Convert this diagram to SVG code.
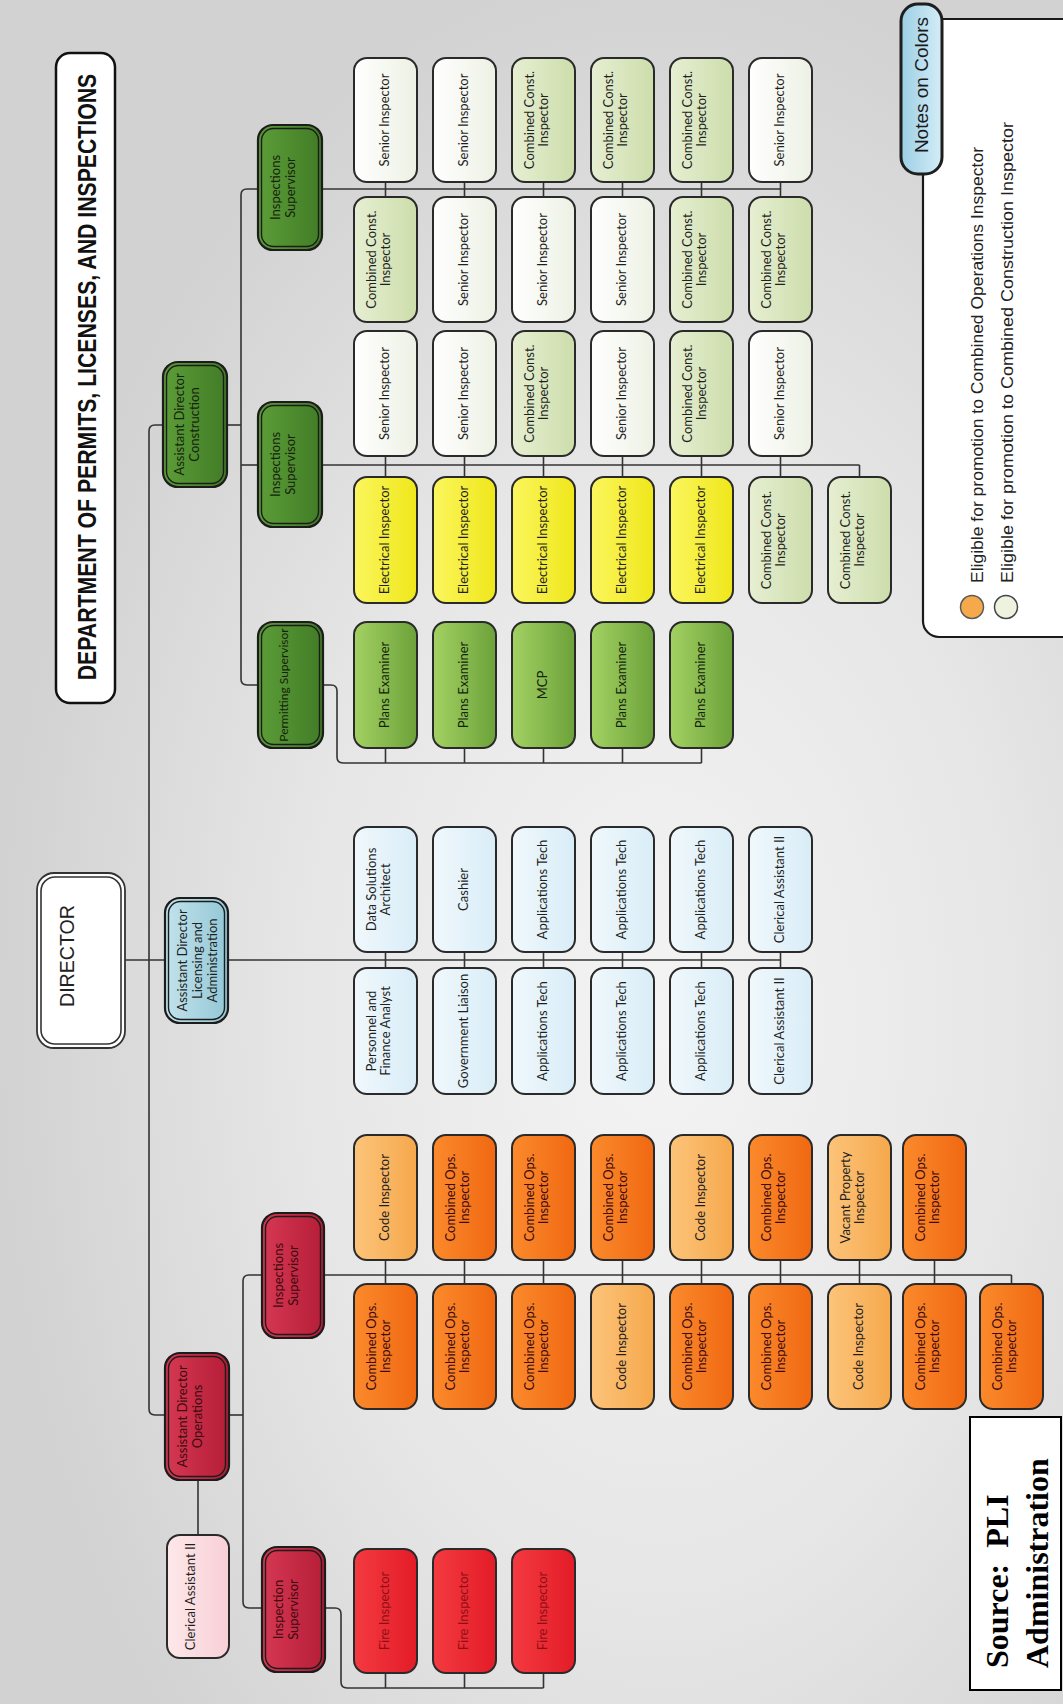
<svg xmlns="http://www.w3.org/2000/svg" width="1063" height="1704" viewBox="0 0 1063 1704">
<defs>
<radialGradient id="bg" cx="0.62" cy="0.6" r="0.62">
<stop offset="0" stop-color="#f4f4f4"/><stop offset="0.55" stop-color="#e6e6e6"/><stop offset="1" stop-color="#d2d2d2"/>
</radialGradient>
<linearGradient id="gSen" x1="0" y1="0" x2="1" y2="0"><stop offset="0" stop-color="#ffffff"/><stop offset="1" stop-color="#edf1e4"/></linearGradient>
<linearGradient id="gCmb" x1="0" y1="0" x2="1" y2="0"><stop offset="0" stop-color="#e6efd2"/><stop offset="1" stop-color="#cdddab"/></linearGradient>
<linearGradient id="gYel" x1="0" y1="0" x2="1" y2="0"><stop offset="0" stop-color="#fbf65e"/><stop offset="1" stop-color="#efe71a"/></linearGradient>
<linearGradient id="gPln" x1="0" y1="0" x2="1" y2="0"><stop offset="0" stop-color="#a3d163"/><stop offset="1" stop-color="#6ca23a"/></linearGradient>
<linearGradient id="gDg" x1="0" y1="0" x2="1" y2="0"><stop offset="0" stop-color="#5c9d38"/><stop offset="1" stop-color="#417c26"/></linearGradient>
<linearGradient id="gLb" x1="0" y1="0" x2="1" y2="0"><stop offset="0" stop-color="#f0f8fc"/><stop offset="1" stop-color="#d9edf7"/></linearGradient>
<linearGradient id="gAdb" x1="0" y1="0" x2="1" y2="0"><stop offset="0" stop-color="#c2e3ec"/><stop offset="1" stop-color="#93c7d6"/></linearGradient>
<linearGradient id="gOr" x1="0" y1="0" x2="1" y2="0"><stop offset="0" stop-color="#fb8a2c"/><stop offset="1" stop-color="#f06812"/></linearGradient>
<linearGradient id="gLo" x1="0" y1="0" x2="1" y2="0"><stop offset="0" stop-color="#fcc47a"/><stop offset="1" stop-color="#f6a84c"/></linearGradient>
<linearGradient id="gFi" x1="0" y1="0" x2="1" y2="0"><stop offset="0" stop-color="#f43a40"/><stop offset="1" stop-color="#e31c27"/></linearGradient>
<linearGradient id="gRs" x1="0" y1="0" x2="1" y2="0"><stop offset="0" stop-color="#d63852"/><stop offset="1" stop-color="#b51d37"/></linearGradient>
<linearGradient id="gPk" x1="0" y1="0" x2="1" y2="0"><stop offset="0" stop-color="#fde8ea"/><stop offset="1" stop-color="#f8d0d6"/></linearGradient>
<linearGradient id="gNt" x1="0" y1="0" x2="1" y2="0"><stop offset="0" stop-color="#9dcfe5"/><stop offset="1" stop-color="#d4edf7"/></linearGradient>
</defs>
<style>
.bx{stroke:#2a2a2a;stroke-width:2}
.sup{stroke:#1c1c1c;stroke-width:2.2}
.in{fill:none;stroke:#1c1c1c;stroke-width:1.4}
.t{font-family:Lato,"Open Sans","DejaVu Sans",sans-serif;font-size:13px;text-anchor:middle;fill:#1f1f1f}
.ts{font-size:12px}
.dk{fill:#14240c}
.rd{fill:#3c0a10}
.fi{fill:#8e1016}
.ln{fill:none;stroke:#333;stroke-width:1.6;stroke-linejoin:round}
.sen{fill:url(#gSen)}.cmb{fill:url(#gCmb)}.yel{fill:url(#gYel)}.pln{fill:url(#gPln)}.dg{fill:url(#gDg)}
.lb{fill:url(#gLb)}.adb{fill:url(#gAdb)}.or{fill:url(#gOr)}.lo{fill:url(#gLo)}.fr{fill:url(#gFi)}.rs{fill:url(#gRs)}.pk{fill:url(#gPk)}
.ar{font-family:"Liberation Sans",Arial,sans-serif}
</style>
<rect x="0" y="0" width="1063" height="1704" fill="url(#bg)"/>

<g id="connectors">
<path class="ln" d="M163,425 H155 Q149,425 149,431 V1409 Q149,1415 155,1415 H165"/>
<path class="ln" d="M125,960 H165"/>
<path class="ln" d="M228,960 H780.5"/>
<path class="ln" d="M385.5,952 V968 M464.5,952 V968 M543.5,952 V968 M622.5,952 V968 M701.5,952 V968 M780.5,952 V968"/>
<path class="ln" d="M227,425 H241"/>
<path class="ln" d="M258,189 H247 Q241,189 241,195 V679 Q241,685 247,685 H258"/>
<path class="ln" d="M241,465 H258"/>
<path class="ln" d="M322,189 H780.5"/>
<path class="ln" d="M385.5,182 V197 M464.5,182 V197 M543.5,182 V197 M622.5,182 V197 M701.5,182 V197 M780.5,182 V197"/>
<path class="ln" d="M322,465 H859.5"/>
<path class="ln" d="M385.5,456 V477 M464.5,456 V477 M543.5,456 V477 M622.5,456 V477 M701.5,456 V477 M780.5,456 V477 M859.5,465 V477"/>
<path class="ln" d="M323,685 H331 Q337,685 337,691 V757 Q337,763 343,763 H701.5"/>
<path class="ln" d="M385.5,748 V763 M464.5,748 V763 M543.5,748 V763 M622.5,748 V763 M701.5,748 V763"/>
<path class="ln" d="M229,1415 H243"/>
<path class="ln" d="M262,1275 H249 Q243,1275 243,1281 V1602 Q243,1608 249,1608 H262"/>
<path class="ln" d="M324,1275 H1011.5"/>
<path class="ln" d="M385.5,1260 V1284 M464.5,1260 V1284 M543.5,1260 V1284 M622.5,1260 V1284 M701.5,1260 V1284 M780.5,1260 V1284 M859.5,1260 V1284 M934.5,1260 V1284 M1011.5,1275 V1284"/>
<path class="ln" d="M198,1480 V1535"/>
<path class="ln" d="M325,1608 H335 Q341,1608 341,1614 V1682 Q341,1688 347,1688 H543.5"/>
<path class="ln" d="M385.5,1673 V1688 M464.5,1673 V1688 M543.5,1673 V1688"/>
</g>

<g id="title">
<rect x="56" y="53" width="59" height="650" rx="14" fill="#ffffff" stroke="#111" stroke-width="2.5"/>
<text class="ar" transform="translate(96,377) rotate(-90) scale(0.85,1)" text-anchor="middle" font-size="25" font-weight="bold" fill="#111">DEPARTMENT OF PERMITS, LICENSES, AND INSPECTIONS</text>
</g>

<g id="legend">
<rect x="923" y="19" width="160" height="618" rx="16" fill="#ffffff" stroke="#1a1a1a" stroke-width="2.2"/>
<circle cx="972" cy="607" r="11.5" fill="#f6a94a" stroke="#5a5a5a" stroke-width="1.5"/>
<circle cx="1006" cy="607" r="11.5" fill="#eef3e0" stroke="#444" stroke-width="1.5"/>
<text class="ar" transform="translate(983,583) rotate(-90)" font-size="16" fill="#222" textLength="436" lengthAdjust="spacingAndGlyphs">Eligible for promotion to Combined Operations Inspector</text>
<text class="ar" transform="translate(1013,583) rotate(-90)" font-size="16" fill="#222" textLength="461" lengthAdjust="spacingAndGlyphs">Eligible for promotion to Combined Construction Inspector</text>
</g>
<g id="notes-tab">
<rect x="901" y="4" width="41" height="170" rx="17" fill="url(#gNt)" stroke="#1e1e1e" stroke-width="3"/>
<text class="ar" transform="translate(928,85) rotate(-90)" text-anchor="middle" font-size="19" fill="#1a1a1a">Notes on Colors</text>
</g>

<g id="director">
<rect x="37" y="873" width="88" height="175" rx="17" fill="#ffffff" stroke="#333" stroke-width="1.8"/>
<rect x="41" y="877" width="80" height="167" rx="14" fill="#ffffff" stroke="#333" stroke-width="1.6"/>
<text class="ar" transform="translate(74,956) rotate(-90)" text-anchor="middle" font-size="21" fill="#222" textLength="102" lengthAdjust="spacingAndGlyphs">DIRECTOR</text>
</g>

<g id="ad-construction">
<rect class="sup dg" x="163" y="362" width="64" height="125" rx="15"/>
<rect class="in" x="166.5" y="365.5" width="57" height="118" rx="12"/>
<text class="t dk" transform="translate(184,424.5) rotate(-90)"><tspan x="0" y="0">Assistant Director</tspan><tspan x="0" y="15">Construction</tspan></text>
</g>
<g id="ad-licensing">
<rect class="sup adb" x="165" y="898" width="63" height="125" rx="15"/>
<rect class="in" x="168.5" y="901.5" width="56" height="118" rx="12"/>
<text class="t" transform="translate(187,960.5) rotate(-90)"><tspan x="0" y="0">Assistant Director</tspan><tspan x="0" y="15">Licensing and</tspan><tspan x="0" y="30">Administration</tspan></text>
</g>
<g id="ad-operations">
<rect class="sup rs" x="165" y="1353" width="64" height="127" rx="15"/>
<rect class="in" x="168.5" y="1356.5" width="57" height="120" rx="12"/>
<text class="t rd" transform="translate(187,1416.5) rotate(-90)"><tspan x="0" y="0">Assistant Director</tspan><tspan x="0" y="15">Operations</tspan></text>
</g>
<g id="clerical-ops">
<rect class="bx pk" x="167" y="1535" width="62" height="123" rx="13"/>
<text class="t" transform="translate(195,1596.5) rotate(-90)">Clerical Assistant II</text>
</g>

<g id="sup-insp-top">
<rect class="sup dg" x="258" y="125" width="64" height="125" rx="15"/>
<rect class="in" x="261.5" y="128.5" width="57" height="118" rx="12"/>
<text class="t dk" transform="translate(280,187.5) rotate(-90)"><tspan x="0" y="0">Inspections</tspan><tspan x="0" y="15">Supervisor</tspan></text>
</g>
<g id="sup-insp-mid">
<rect class="sup dg" x="258" y="402" width="64" height="125" rx="15"/>
<rect class="in" x="261.5" y="405.5" width="57" height="118" rx="12"/>
<text class="t dk" transform="translate(280,464.5) rotate(-90)"><tspan x="0" y="0">Inspections</tspan><tspan x="0" y="15">Supervisor</tspan></text>
</g>
<g id="sup-permitting">
<rect class="sup dg" x="258" y="622" width="65" height="126" rx="15"/>
<rect class="in" x="261.5" y="625.5" width="58" height="119" rx="12"/>
<text class="t ts dk" transform="translate(288,685) rotate(-90)">Permitting Supervisor</text>
</g>
<g id="sup-ops-insp">
<rect class="sup rs" x="262" y="1213" width="62" height="125" rx="15"/>
<rect class="in" x="265.5" y="1216.5" width="55" height="118" rx="12"/>
<text class="t rd" transform="translate(283,1275.5) rotate(-90)"><tspan x="0" y="0">Inspections</tspan><tspan x="0" y="15">Supervisor</tspan></text>
</g>
<g id="sup-ops-fire">
<rect class="sup rs" x="262" y="1547" width="63" height="125" rx="15"/>
<rect class="in" x="265.5" y="1550.5" width="56" height="118" rx="12"/>
<text class="t rd" transform="translate(283,1609.5) rotate(-90)"><tspan x="0" y="0">Inspection</tspan><tspan x="0" y="15">Supervisor</tspan></text>
</g>

<!-- Construction row 1 -->
<g id="r1c1"><rect class="bx sen" x="354" y="58" width="63" height="124" rx="13"/><text class="t" transform="translate(388.5,120) rotate(-90)">Senior Inspector</text></g>
<g id="r1c2"><rect class="bx sen" x="433" y="58" width="63" height="124" rx="13"/><text class="t" transform="translate(467.5,120) rotate(-90)">Senior Inspector</text></g>
<g id="r1c3"><rect class="bx cmb" x="512" y="58" width="63" height="124" rx="13"/><text class="t" transform="translate(533.5,120) rotate(-90)"><tspan x="0" y="0">Combined Const.</tspan><tspan x="0" y="14">Inspector</tspan></text></g>
<g id="r1c4"><rect class="bx cmb" x="591" y="58" width="63" height="124" rx="13"/><text class="t" transform="translate(612.5,120) rotate(-90)"><tspan x="0" y="0">Combined Const.</tspan><tspan x="0" y="14">Inspector</tspan></text></g>
<g id="r1c5"><rect class="bx cmb" x="670" y="58" width="63" height="124" rx="13"/><text class="t" transform="translate(691.5,120) rotate(-90)"><tspan x="0" y="0">Combined Const.</tspan><tspan x="0" y="14">Inspector</tspan></text></g>
<g id="r1c6"><rect class="bx sen" x="749" y="58" width="63" height="124" rx="13"/><text class="t" transform="translate(783.5,120) rotate(-90)">Senior Inspector</text></g>
<!-- Construction row 2 -->
<g id="r2c1"><rect class="bx cmb" x="354" y="197" width="63" height="125" rx="13"/><text class="t" transform="translate(375.5,259.5) rotate(-90)"><tspan x="0" y="0">Combined Const.</tspan><tspan x="0" y="14">Inspector</tspan></text></g>
<g id="r2c2"><rect class="bx sen" x="433" y="197" width="63" height="125" rx="13"/><text class="t" transform="translate(467.5,259.5) rotate(-90)">Senior Inspector</text></g>
<g id="r2c3"><rect class="bx sen" x="512" y="197" width="63" height="125" rx="13"/><text class="t" transform="translate(546.5,259.5) rotate(-90)">Senior Inspector</text></g>
<g id="r2c4"><rect class="bx sen" x="591" y="197" width="63" height="125" rx="13"/><text class="t" transform="translate(625.5,259.5) rotate(-90)">Senior Inspector</text></g>
<g id="r2c5"><rect class="bx cmb" x="670" y="197" width="63" height="125" rx="13"/><text class="t" transform="translate(691.5,259.5) rotate(-90)"><tspan x="0" y="0">Combined Const.</tspan><tspan x="0" y="14">Inspector</tspan></text></g>
<g id="r2c6"><rect class="bx cmb" x="749" y="197" width="63" height="125" rx="13"/><text class="t" transform="translate(770.5,259.5) rotate(-90)"><tspan x="0" y="0">Combined Const.</tspan><tspan x="0" y="14">Inspector</tspan></text></g>
<!-- Construction row 3 -->
<g id="r3c1"><rect class="bx sen" x="354" y="331" width="63" height="125" rx="13"/><text class="t" transform="translate(388.5,393.5) rotate(-90)">Senior Inspector</text></g>
<g id="r3c2"><rect class="bx sen" x="433" y="331" width="63" height="125" rx="13"/><text class="t" transform="translate(467.5,393.5) rotate(-90)">Senior Inspector</text></g>
<g id="r3c3"><rect class="bx cmb" x="512" y="331" width="63" height="125" rx="13"/><text class="t" transform="translate(533.5,393.5) rotate(-90)"><tspan x="0" y="0">Combined Const.</tspan><tspan x="0" y="14">Inspector</tspan></text></g>
<g id="r3c4"><rect class="bx sen" x="591" y="331" width="63" height="125" rx="13"/><text class="t" transform="translate(625.5,393.5) rotate(-90)">Senior Inspector</text></g>
<g id="r3c5"><rect class="bx cmb" x="670" y="331" width="63" height="125" rx="13"/><text class="t" transform="translate(691.5,393.5) rotate(-90)"><tspan x="0" y="0">Combined Const.</tspan><tspan x="0" y="14">Inspector</tspan></text></g>
<g id="r3c6"><rect class="bx sen" x="749" y="331" width="63" height="125" rx="13"/><text class="t" transform="translate(783.5,393.5) rotate(-90)">Senior Inspector</text></g>
<!-- Construction row 4 -->
<g id="r4c1"><rect class="bx yel" x="354" y="477" width="63" height="126" rx="13"/><text class="t" transform="translate(388.5,540) rotate(-90)">Electrical Inspector</text></g>
<g id="r4c2"><rect class="bx yel" x="433" y="477" width="63" height="126" rx="13"/><text class="t" transform="translate(467.5,540) rotate(-90)">Electrical Inspector</text></g>
<g id="r4c3"><rect class="bx yel" x="512" y="477" width="63" height="126" rx="13"/><text class="t" transform="translate(546.5,540) rotate(-90)">Electrical Inspector</text></g>
<g id="r4c4"><rect class="bx yel" x="591" y="477" width="63" height="126" rx="13"/><text class="t" transform="translate(625.5,540) rotate(-90)">Electrical Inspector</text></g>
<g id="r4c5"><rect class="bx yel" x="670" y="477" width="63" height="126" rx="13"/><text class="t" transform="translate(704.5,540) rotate(-90)">Electrical Inspector</text></g>
<g id="r4c6"><rect class="bx cmb" x="749" y="477" width="63" height="126" rx="13"/><text class="t" transform="translate(770.5,540) rotate(-90)"><tspan x="0" y="0">Combined Const.</tspan><tspan x="0" y="14">Inspector</tspan></text></g>
<g id="r4c7"><rect class="bx cmb" x="828" y="477" width="63" height="126" rx="13"/><text class="t" transform="translate(849.5,540) rotate(-90)"><tspan x="0" y="0">Combined Const.</tspan><tspan x="0" y="14">Inspector</tspan></text></g>
<!-- Construction row 5 -->
<g id="r5c1"><rect class="bx pln" x="354" y="622" width="63" height="126" rx="13"/><text class="t dk" transform="translate(388.5,685) rotate(-90)">Plans Examiner</text></g>
<g id="r5c2"><rect class="bx pln" x="433" y="622" width="63" height="126" rx="13"/><text class="t dk" transform="translate(467.5,685) rotate(-90)">Plans Examiner</text></g>
<g id="r5c3"><rect class="bx pln" x="512" y="622" width="63" height="126" rx="13"/><text class="t dk" transform="translate(546.5,685) rotate(-90)">MCP</text></g>
<g id="r5c4"><rect class="bx pln" x="591" y="622" width="63" height="126" rx="13"/><text class="t dk" transform="translate(625.5,685) rotate(-90)">Plans Examiner</text></g>
<g id="r5c5"><rect class="bx pln" x="670" y="622" width="63" height="126" rx="13"/><text class="t dk" transform="translate(704.5,685) rotate(-90)">Plans Examiner</text></g>
<!-- Licensing row 6 -->
<g id="r6c1"><rect class="bx lb" x="354" y="827" width="63" height="125" rx="13"/><text class="t" transform="translate(375.5,889.5) rotate(-90)"><tspan x="0" y="0">Data Solutions</tspan><tspan x="0" y="14">Architect</tspan></text></g>
<g id="r6c2"><rect class="bx lb" x="433" y="827" width="63" height="125" rx="13"/><text class="t" transform="translate(467.5,889.5) rotate(-90)">Cashier</text></g>
<g id="r6c3"><rect class="bx lb" x="512" y="827" width="63" height="125" rx="13"/><text class="t" transform="translate(546.5,889.5) rotate(-90)">Applications Tech</text></g>
<g id="r6c4"><rect class="bx lb" x="591" y="827" width="63" height="125" rx="13"/><text class="t" transform="translate(625.5,889.5) rotate(-90)">Applications Tech</text></g>
<g id="r6c5"><rect class="bx lb" x="670" y="827" width="63" height="125" rx="13"/><text class="t" transform="translate(704.5,889.5) rotate(-90)">Applications Tech</text></g>
<g id="r6c6"><rect class="bx lb" x="749" y="827" width="63" height="125" rx="13"/><text class="t" transform="translate(783.5,889.5) rotate(-90)">Clerical Assistant II</text></g>
<!-- Licensing row 7 -->
<g id="r7c1"><rect class="bx lb" x="354" y="968" width="63" height="126" rx="13"/><text class="t" transform="translate(375.5,1031) rotate(-90)"><tspan x="0" y="0">Personnel and</tspan><tspan x="0" y="14">Finance Analyst</tspan></text></g>
<g id="r7c2"><rect class="bx lb" x="433" y="968" width="63" height="126" rx="13"/><text class="t" transform="translate(467.5,1031) rotate(-90)">Government Liaison</text></g>
<g id="r7c3"><rect class="bx lb" x="512" y="968" width="63" height="126" rx="13"/><text class="t" transform="translate(546.5,1031) rotate(-90)">Applications Tech</text></g>
<g id="r7c4"><rect class="bx lb" x="591" y="968" width="63" height="126" rx="13"/><text class="t" transform="translate(625.5,1031) rotate(-90)">Applications Tech</text></g>
<g id="r7c5"><rect class="bx lb" x="670" y="968" width="63" height="126" rx="13"/><text class="t" transform="translate(704.5,1031) rotate(-90)">Applications Tech</text></g>
<g id="r7c6"><rect class="bx lb" x="749" y="968" width="63" height="126" rx="13"/><text class="t" transform="translate(783.5,1031) rotate(-90)">Clerical Assistant II</text></g>
<!-- Operations row 8 -->
<g id="r8c1"><rect class="bx lo" x="354" y="1135" width="63" height="125" rx="13"/><text class="t" transform="translate(388.5,1197.5) rotate(-90)">Code Inspector</text></g>
<g id="r8c2"><rect class="bx or" x="433" y="1135" width="63" height="125" rx="13"/><text class="t rd" transform="translate(454.5,1197.5) rotate(-90)"><tspan x="0" y="0">Combined Ops.</tspan><tspan x="0" y="14">Inspector</tspan></text></g>
<g id="r8c3"><rect class="bx or" x="512" y="1135" width="63" height="125" rx="13"/><text class="t rd" transform="translate(533.5,1197.5) rotate(-90)"><tspan x="0" y="0">Combined Ops.</tspan><tspan x="0" y="14">Inspector</tspan></text></g>
<g id="r8c4"><rect class="bx or" x="591" y="1135" width="63" height="125" rx="13"/><text class="t rd" transform="translate(612.5,1197.5) rotate(-90)"><tspan x="0" y="0">Combined Ops.</tspan><tspan x="0" y="14">Inspector</tspan></text></g>
<g id="r8c5"><rect class="bx lo" x="670" y="1135" width="63" height="125" rx="13"/><text class="t" transform="translate(704.5,1197.5) rotate(-90)">Code Inspector</text></g>
<g id="r8c6"><rect class="bx or" x="749" y="1135" width="63" height="125" rx="13"/><text class="t rd" transform="translate(770.5,1197.5) rotate(-90)"><tspan x="0" y="0">Combined Ops.</tspan><tspan x="0" y="14">Inspector</tspan></text></g>
<g id="r8c7"><rect class="bx lo" x="828" y="1135" width="63" height="125" rx="13"/><text class="t" transform="translate(849.5,1197.5) rotate(-90)"><tspan x="0" y="0">Vacant Property</tspan><tspan x="0" y="14">Inspector</tspan></text></g>
<g id="r8c8"><rect class="bx or" x="903" y="1135" width="63" height="125" rx="13"/><text class="t rd" transform="translate(924.5,1197.5) rotate(-90)"><tspan x="0" y="0">Combined Ops.</tspan><tspan x="0" y="14">Inspector</tspan></text></g>
<!-- Operations row 9 -->
<g id="r9c1"><rect class="bx or" x="354" y="1284" width="63" height="125" rx="13"/><text class="t rd" transform="translate(375.5,1346.5) rotate(-90)"><tspan x="0" y="0">Combined Ops.</tspan><tspan x="0" y="14">Inspector</tspan></text></g>
<g id="r9c2"><rect class="bx or" x="433" y="1284" width="63" height="125" rx="13"/><text class="t rd" transform="translate(454.5,1346.5) rotate(-90)"><tspan x="0" y="0">Combined Ops.</tspan><tspan x="0" y="14">Inspector</tspan></text></g>
<g id="r9c3"><rect class="bx or" x="512" y="1284" width="63" height="125" rx="13"/><text class="t rd" transform="translate(533.5,1346.5) rotate(-90)"><tspan x="0" y="0">Combined Ops.</tspan><tspan x="0" y="14">Inspector</tspan></text></g>
<g id="r9c4"><rect class="bx lo" x="591" y="1284" width="63" height="125" rx="13"/><text class="t" transform="translate(625.5,1346.5) rotate(-90)">Code Inspector</text></g>
<g id="r9c5"><rect class="bx or" x="670" y="1284" width="63" height="125" rx="13"/><text class="t rd" transform="translate(691.5,1346.5) rotate(-90)"><tspan x="0" y="0">Combined Ops.</tspan><tspan x="0" y="14">Inspector</tspan></text></g>
<g id="r9c6"><rect class="bx or" x="749" y="1284" width="63" height="125" rx="13"/><text class="t rd" transform="translate(770.5,1346.5) rotate(-90)"><tspan x="0" y="0">Combined Ops.</tspan><tspan x="0" y="14">Inspector</tspan></text></g>
<g id="r9c7"><rect class="bx lo" x="828" y="1284" width="63" height="125" rx="13"/><text class="t" transform="translate(862.5,1346.5) rotate(-90)">Code Inspector</text></g>
<g id="r9c8"><rect class="bx or" x="903" y="1284" width="63" height="125" rx="13"/><text class="t rd" transform="translate(924.5,1346.5) rotate(-90)"><tspan x="0" y="0">Combined Ops.</tspan><tspan x="0" y="14">Inspector</tspan></text></g>
<g id="r9c9"><rect class="bx or" x="980" y="1284" width="63" height="125" rx="13"/><text class="t rd" transform="translate(1001.5,1346.5) rotate(-90)"><tspan x="0" y="0">Combined Ops.</tspan><tspan x="0" y="14">Inspector</tspan></text></g>
<!-- Fire -->
<g id="fire1"><rect class="bx fr" x="354" y="1549" width="63" height="124" rx="13"/><text class="t fi" transform="translate(388.5,1611) rotate(-90)">Fire Inspector</text></g>
<g id="fire2"><rect class="bx fr" x="433" y="1549" width="63" height="124" rx="13"/><text class="t fi" transform="translate(467.5,1611) rotate(-90)">Fire Inspector</text></g>
<g id="fire3"><rect class="bx fr" x="512" y="1549" width="63" height="124" rx="13"/><text class="t fi" transform="translate(546.5,1611) rotate(-90)">Fire Inspector</text></g>

<g id="source">
<rect x="970" y="1417" width="91" height="273" fill="#ffffff" stroke="#000" stroke-width="2"/>
<text transform="translate(1008,1668) rotate(-90)" font-family="'Liberation Serif','Times New Roman',serif" font-size="32" font-weight="bold" fill="#000">Source:&#160; PLI</text>
<text transform="translate(1048,1668) rotate(-90)" font-family="'Liberation Serif','Times New Roman',serif" font-size="32" font-weight="bold" fill="#000">Administration</text>
</g>
</svg>
